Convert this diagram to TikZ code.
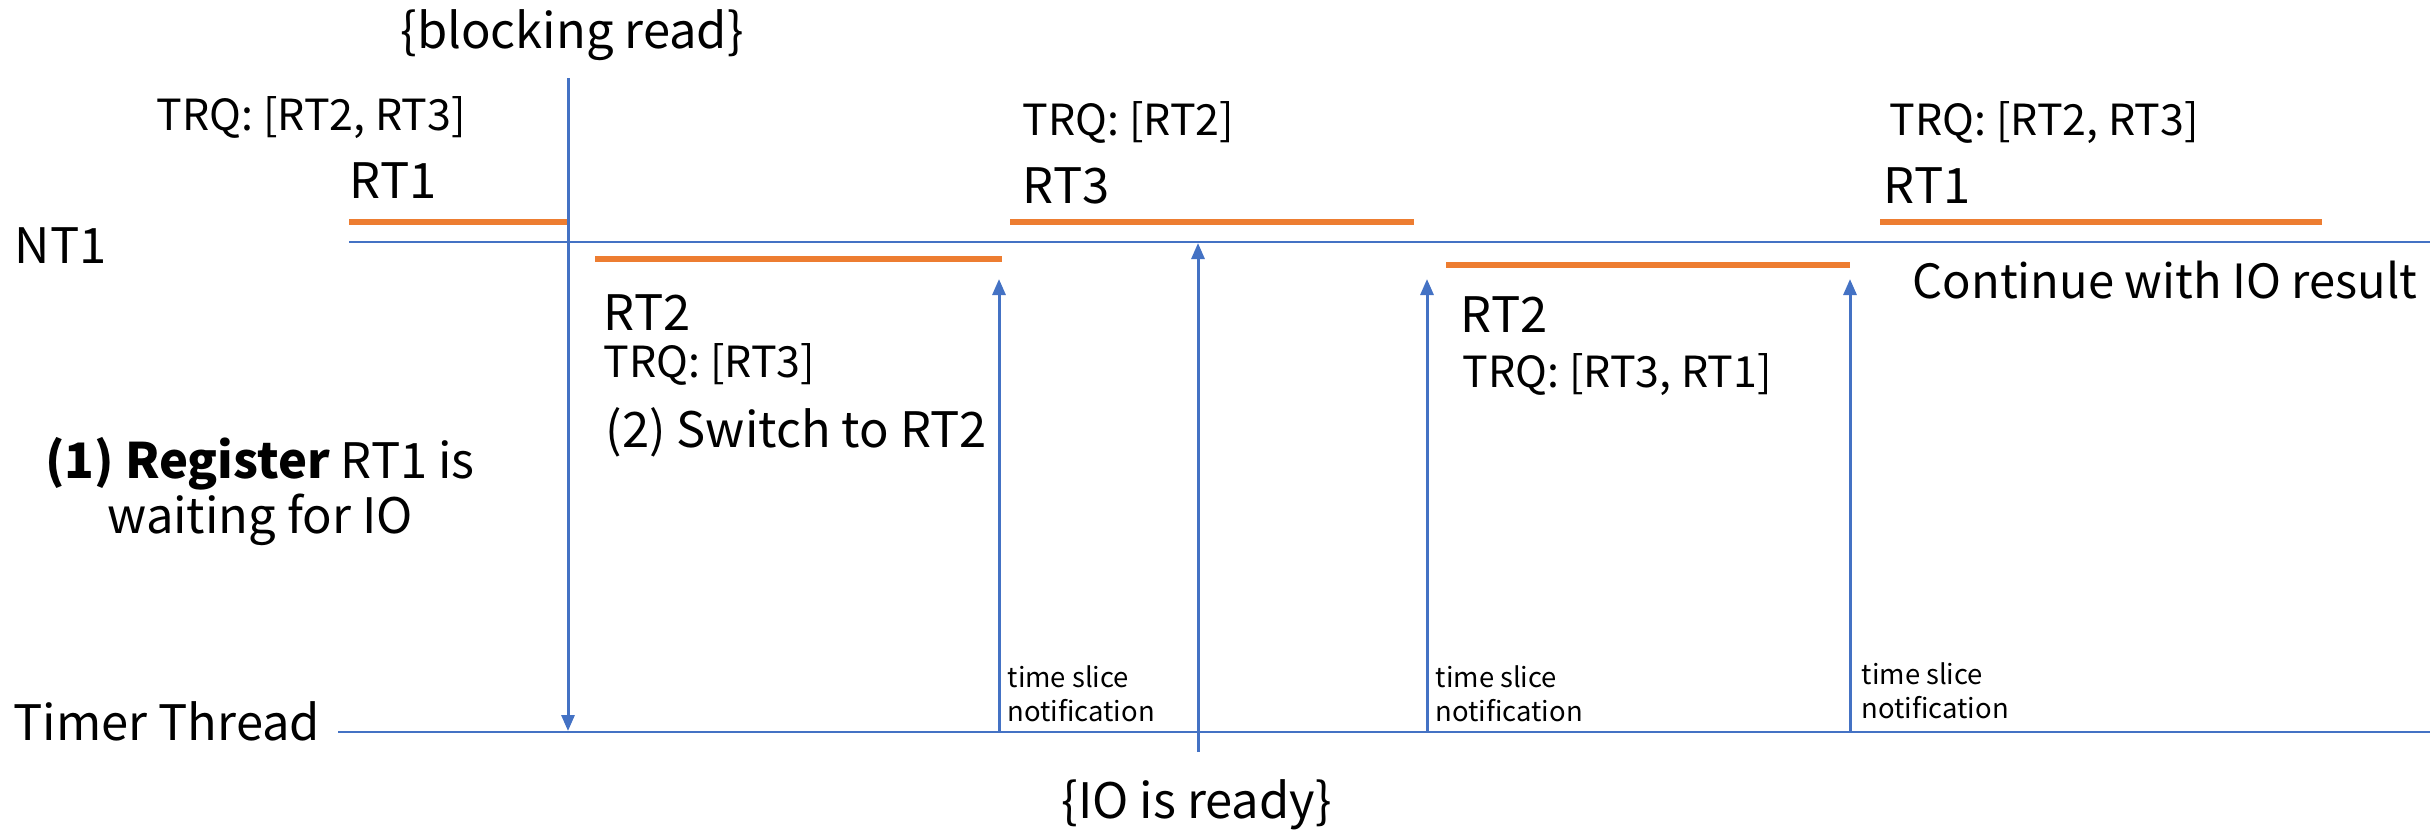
\documentclass[tikz,border=0pt]{standalone}
\usepackage{fontspec}
\setmainfont{Noto Sans CJK JP}
\usetikzlibrary{arrows.meta}
\definecolor{lblue}{HTML}{4472C4}
\definecolor{lorange}{HTML}{ED7D31}
\tikzset{
  lane/.style={draw=lblue, line width=0.6pt},
  runbar/.style={draw=lorange, line width=1.5pt},
  sig/.style={draw=lblue, line width=0.85pt, -{Triangle[length=0.16cm, width=0.13cm]}},
  big/.style={font=\fontsize{13.9}{14.5}\selectfont, inner sep=0pt, anchor=base west},
  trq/.style={font=\fontsize{12.2}{14}\selectfont, inner sep=0pt, anchor=base west},
  small/.style={font=\fontsize{7.8}{9.67}\selectfont, inner sep=0pt, anchor=base west, align=left},
}
\begin{document}
\begin{tikzpicture}[x=0.01cm, y=-0.01cm]
\useasboundingbox (0,0) rectangle (2430,829);

% lanes
\coordinate (nt1s) at (349,242);
\coordinate (nt1e) at (2430,242);
\coordinate (tts) at (338,732);
\coordinate (tte) at (2430,732);
\draw[lane] (nt1s) -- (nt1e);
\draw[lane] (tts) -- (tte);

% run bars
\coordinate (b1s) at (349,222); \coordinate (b1e) at (568,222);
\coordinate (b2s) at (595,259); \coordinate (b2e) at (1002,259);
\coordinate (b3s) at (1010,222); \coordinate (b3e) at (1414,222);
\coordinate (b4s) at (1446,265); \coordinate (b4e) at (1850,265);
\coordinate (b5s) at (1880,222); \coordinate (b5e) at (2322,222);
\draw[runbar] (b1s) -- (b1e);
\draw[runbar] (b2s) -- (b2e);
\draw[runbar] (b3s) -- (b3e);
\draw[runbar] (b4s) -- (b4e);
\draw[runbar] (b5s) -- (b5e);

% signals
\coordinate (brs) at (568,78);  \coordinate (bre) at (568,731);
\coordinate (t1s) at (999,732); \coordinate (t1e) at (999,279);
\coordinate (t2s) at (1427,732); \coordinate (t2e) at (1427,279);
\coordinate (t3s) at (1850,732); \coordinate (t3e) at (1850,279);
\coordinate (ios) at (1198,752); \coordinate (ioe) at (1198,243);
\draw[sig] (brs) -- (bre);
\draw[sig] (t1s) -- (t1e);
\draw[sig] (t2s) -- (t2e);
\draw[sig] (t3s) -- (t3e);
\draw[sig] (ios) -- (ioe);

% labels
\node[big] (nt1) at (14,263) {NT1};
\node[big] (timer) at (13,740) {Timer Thread};
\node[big] (blk) at (400,48) {\{blocking read\}};
\node[trq] (q1) at (156,130) {TRQ: [RT2, RT3]};
\node[big] (rt1a) at (349,198) {RT1};
\node[big] (rt2a) at (603,330) {RT2};
\node[trq] (q2) at (603,377) {TRQ: [RT3]};
\node[big] (sw) at (605,447) {(2) Switch to RT2};
\node[big, align=center, anchor=base] (reg) at (260,533) {\textbf{(1) Register} RT1 is\\waiting for IO};
\node[trq] (q3) at (1022,135) {TRQ: [RT2]};
\node[big] (rt3) at (1022,203) {RT3};
\node[big] (rt2b) at (1460,332) {RT2};
\node[trq] (q4) at (1462,387) {TRQ: [RT3, RT1]};
\node[trq] (q5) at (1889,135) {TRQ: [RT2, RT3]};
\node[big] (rt1b) at (1883,203) {RT1};
\node[big, font=\fontsize{13.4}{14.5}\selectfont] (cont) at (1912,298) {Continue with IO result};
\node[small] (ts1) at (1007,721) {time slice\\notification};
\node[small] (ts2) at (1435,721) {time slice\\notification};
\node[small] (ts3) at (1861,718) {time slice\\notification};
\node[big] (io) at (1061,818) {\{IO is ready\}};
\end{tikzpicture}
\end{document}
